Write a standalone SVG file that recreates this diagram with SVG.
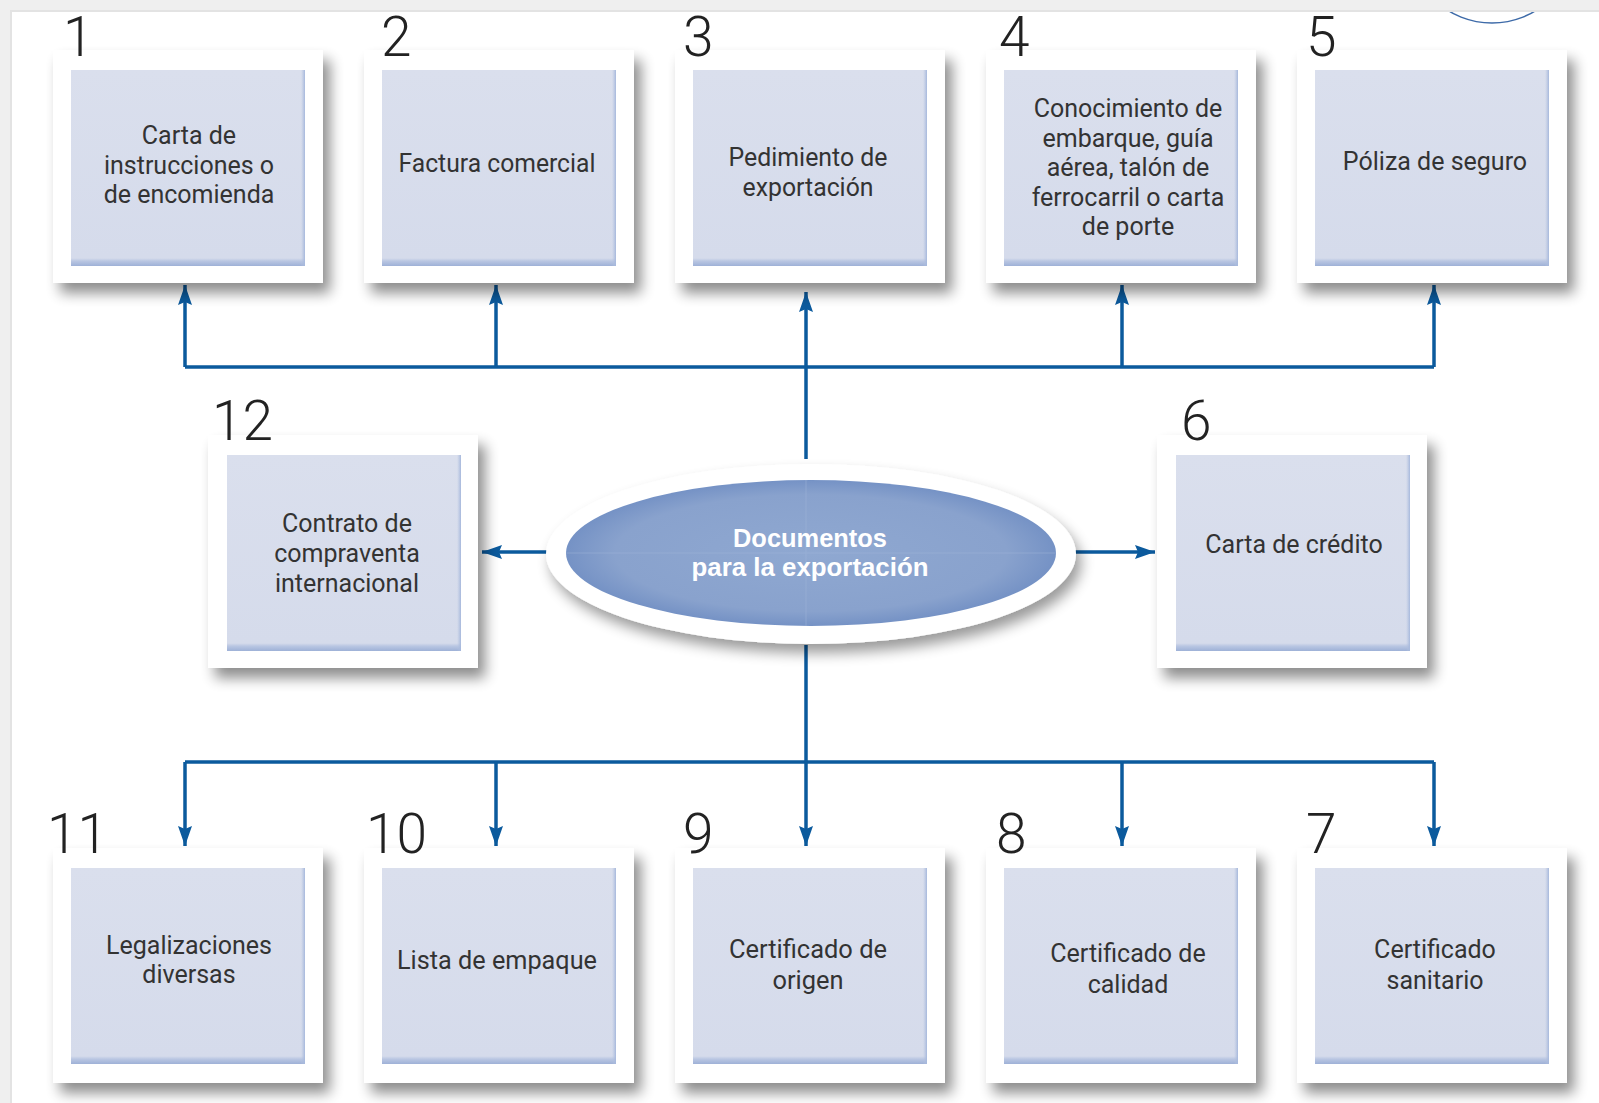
<svg xmlns="http://www.w3.org/2000/svg" width="1599" height="1103" viewBox="0 0 1599 1103">
<defs>
<filter id="sh" x="-10%" y="-10%" width="128%" height="135%">
<feGaussianBlur in="SourceAlpha" stdDeviation="7"/>
<feOffset dx="7" dy="10" result="b"/>
<feComponentTransfer><feFuncA type="linear" slope="0.45"/></feComponentTransfer>
<feMerge><feMergeNode/><feMergeNode in="SourceGraphic"/></feMerge>
</filter>
<filter id="esh" x="-10%" y="-20%" width="125%" height="150%">
<feGaussianBlur in="SourceAlpha" stdDeviation="7"/>
<feOffset dx="5" dy="9" result="b"/>
<feComponentTransfer><feFuncA type="linear" slope="0.4"/></feComponentTransfer>
<feMerge><feMergeNode/><feMergeNode in="SourceGraphic"/></feMerge>
</filter>
<linearGradient id="ig" x1="0" y1="0" x2="0" y2="1">
<stop offset="0" stop-color="#dadfed"/>
<stop offset="0.96" stop-color="#d5dbeb"/>
<stop offset="0.975" stop-color="#b9c6e2"/>
<stop offset="1" stop-color="#9eb1d7"/>
</linearGradient>
<linearGradient id="rg" x1="0" y1="0" x2="1" y2="0">
<stop offset="0" stop-color="#b3c2e0" stop-opacity="0"/>
<stop offset="1" stop-color="#a6b8dc" stop-opacity="1"/>
</linearGradient>
<radialGradient id="eg" cx="0.5" cy="0.5" r="0.5">
<stop offset="0" stop-color="#8fa8d1"/>
<stop offset="0.8" stop-color="#89a2cd"/>
<stop offset="1" stop-color="#7592c5"/>
</radialGradient>
<marker id="ah" markerUnits="userSpaceOnUse" markerWidth="22" markerHeight="16" refX="20" refY="7" orient="auto">
<path d="M0,0 L20,7 L0,14 L3,7 Z" fill="#0b5a9d"/>
</marker>
<style>
.frame{fill:#ffffff;filter:url(#sh)}
.inner{fill:url(#ig)}
.redge{fill:url(#rg)}
.num{font-family:Roboto,"Liberation Sans",sans-serif;font-weight:300;font-size:55px;fill:#222222}
.lbl{font-family:Roboto,"Liberation Sans",sans-serif;font-size:25px;fill:#333333;text-anchor:middle}
.con{fill:none;stroke:#0b5a9d;stroke-width:3.5}
.ctr{font-family:"Liberation Sans",Arial,sans-serif;font-weight:bold;font-size:26px;fill:#ffffff;text-anchor:middle}
</style>
</defs>
<rect x="0" y="0" width="1599" height="1103" fill="#ffffff"/>
<circle cx="1492" cy="-61" r="84" fill="none" stroke="#3d6aa8" stroke-width="1.5"/>
<rect x="0" y="0" width="1599" height="10" fill="#efefef"/>
<rect x="0" y="10" width="1599" height="2" fill="#e3e3e3"/>
<rect x="0" y="0" width="10" height="1103" fill="#efefef"/>
<rect x="10" y="10" width="2" height="1093" fill="#e3e3e3"/>

<g id="connectors">
<path class="con" d="M185,367 H1434"/>
<path class="con" d="M185,367 V285" marker-end="url(#ah)"/>
<path class="con" d="M496,367 V285" marker-end="url(#ah)"/>
<path class="con" d="M806,459 V292" marker-end="url(#ah)"/>
<path class="con" d="M1122,367 V285" marker-end="url(#ah)"/>
<path class="con" d="M1434,367 V285" marker-end="url(#ah)"/>
<path class="con" d="M548,552 H482" marker-end="url(#ah)"/>
<path class="con" d="M1074,552 H1155" marker-end="url(#ah)"/>
<path class="con" d="M185,762 H1434"/>
<path class="con" d="M806,645 V846" marker-end="url(#ah)"/>
<path class="con" d="M185,762 V846" marker-end="url(#ah)"/>
<path class="con" d="M496,762 V846" marker-end="url(#ah)"/>
<path class="con" d="M1122,762 V846" marker-end="url(#ah)"/>
<path class="con" d="M1434,762 V846" marker-end="url(#ah)"/>
</g>

<g id="n1">
<rect class="frame" x="53" y="50" width="270" height="233"/>
<rect class="inner" x="71" y="70" width="234" height="196"/>
<rect class="redge" x="301" y="70" width="4" height="196"/>
<text class="num" x="63" y="56">1</text>
<text class="lbl" x="189" y="144">Carta de</text>
<text class="lbl" x="189" y="174">instrucciones o</text>
<text class="lbl" x="189" y="203">de encomienda</text>
</g>
<g id="n2">
<rect class="frame" x="364" y="50" width="270" height="233"/>
<rect class="inner" x="382" y="70" width="234" height="196"/>
<rect class="redge" x="612" y="70" width="4" height="196"/>
<text class="num" x="381" y="56">2</text>
<text class="lbl" x="497" y="172" textLength="197" lengthAdjust="spacingAndGlyphs">Factura comercial</text>
</g>
<g id="n3">
<rect class="frame" x="675" y="50" width="270" height="233"/>
<rect class="inner" x="693" y="70" width="234" height="196"/>
<rect class="redge" x="923" y="70" width="4" height="196"/>
<text class="num" x="683" y="56">3</text>
<text class="lbl" x="808" y="166" textLength="159" lengthAdjust="spacingAndGlyphs">Pedimiento de</text>
<text class="lbl" x="808" y="196" textLength="131" lengthAdjust="spacingAndGlyphs">exportación</text>
</g>
<g id="n4">
<rect class="frame" x="986" y="50" width="270" height="233"/>
<rect class="inner" x="1004" y="70" width="234" height="196"/>
<rect class="redge" x="1234" y="70" width="4" height="196"/>
<text class="num" x="999" y="56">4</text>
<text class="lbl" x="1128" y="117">Conocimiento de</text>
<text class="lbl" x="1128" y="147">embarque, guía</text>
<text class="lbl" x="1128" y="176">aérea, talón de</text>
<text class="lbl" x="1128" y="206">ferrocarril o carta</text>
<text class="lbl" x="1128" y="235">de porte</text>
</g>
<g id="n5">
<rect class="frame" x="1297" y="50" width="270" height="233"/>
<rect class="inner" x="1315" y="70" width="234" height="196"/>
<rect class="redge" x="1545" y="70" width="4" height="196"/>
<text class="num" x="1306" y="56">5</text>
<text class="lbl" x="1435" y="170">Póliza de seguro</text>
</g>
<g id="n12">
<rect class="frame" x="208" y="435" width="270" height="233"/>
<rect class="inner" x="227" y="455" width="234" height="196"/>
<rect class="redge" x="457" y="455" width="4" height="196"/>
<text class="num" x="212" y="440">12</text>
<text class="lbl" x="347" y="532">Contrato de</text>
<text class="lbl" x="347" y="562">compraventa</text>
<text class="lbl" x="347" y="592">internacional</text>
</g>
<g id="n6">
<rect class="frame" x="1157" y="435" width="270" height="233"/>
<rect class="inner" x="1176" y="455" width="234" height="196"/>
<rect class="redge" x="1406" y="455" width="4" height="196"/>
<text class="num" x="1181" y="440">6</text>
<text class="lbl" x="1294" y="553">Carta de crédito</text>
</g>
<g id="center">
<ellipse cx="811" cy="554" rx="265" ry="90" fill="#ffffff" filter="url(#esh)"/>
<ellipse cx="811" cy="553" rx="245" ry="73" fill="url(#eg)"/>
<path d="M566,553 H1056 M806,480 V626" stroke="#9fb4d8" stroke-width="1" opacity="0.5"/>
<text class="ctr" x="810" y="547" textLength="154" lengthAdjust="spacingAndGlyphs">Documentos</text>
<text class="ctr" x="810" y="576" textLength="237" lengthAdjust="spacingAndGlyphs">para la exportación</text>
</g>
<g id="n11">
<rect class="frame" x="53" y="848" width="270" height="235"/>
<rect class="inner" x="71" y="868" width="234" height="196"/>
<rect class="redge" x="301" y="868" width="4" height="196"/>
<text class="num" x="47" y="853">11</text>
<text class="lbl" x="189" y="954">Legalizaciones</text>
<text class="lbl" x="189" y="983">diversas</text>
</g>
<g id="n10">
<rect class="frame" x="364" y="848" width="270" height="235"/>
<rect class="inner" x="382" y="868" width="234" height="196"/>
<rect class="redge" x="612" y="868" width="4" height="196"/>
<text class="num" x="366" y="853">10</text>
<text class="lbl" x="497" y="969" textLength="200" lengthAdjust="spacingAndGlyphs">Lista de empaque</text>
</g>
<g id="n9">
<rect class="frame" x="675" y="848" width="270" height="235"/>
<rect class="inner" x="693" y="868" width="234" height="196"/>
<rect class="redge" x="923" y="868" width="4" height="196"/>
<text class="num" x="683" y="853">9</text>
<text class="lbl" x="808" y="958" textLength="158" lengthAdjust="spacingAndGlyphs">Certificado de</text>
<text class="lbl" x="808" y="989" textLength="71" lengthAdjust="spacingAndGlyphs">origen</text>
</g>
<g id="n8">
<rect class="frame" x="986" y="848" width="270" height="235"/>
<rect class="inner" x="1004" y="868" width="234" height="196"/>
<rect class="redge" x="1234" y="868" width="4" height="196"/>
<text class="num" x="996" y="853">8</text>
<text class="lbl" x="1128" y="962">Certificado de</text>
<text class="lbl" x="1128" y="993">calidad</text>
</g>
<g id="n7">
<rect class="frame" x="1297" y="848" width="270" height="235"/>
<rect class="inner" x="1315" y="868" width="234" height="196"/>
<rect class="redge" x="1545" y="868" width="4" height="196"/>
<text class="num" x="1306" y="853">7</text>
<text class="lbl" x="1435" y="958">Certificado</text>
<text class="lbl" x="1435" y="989">sanitario</text>
</g>
</svg>
